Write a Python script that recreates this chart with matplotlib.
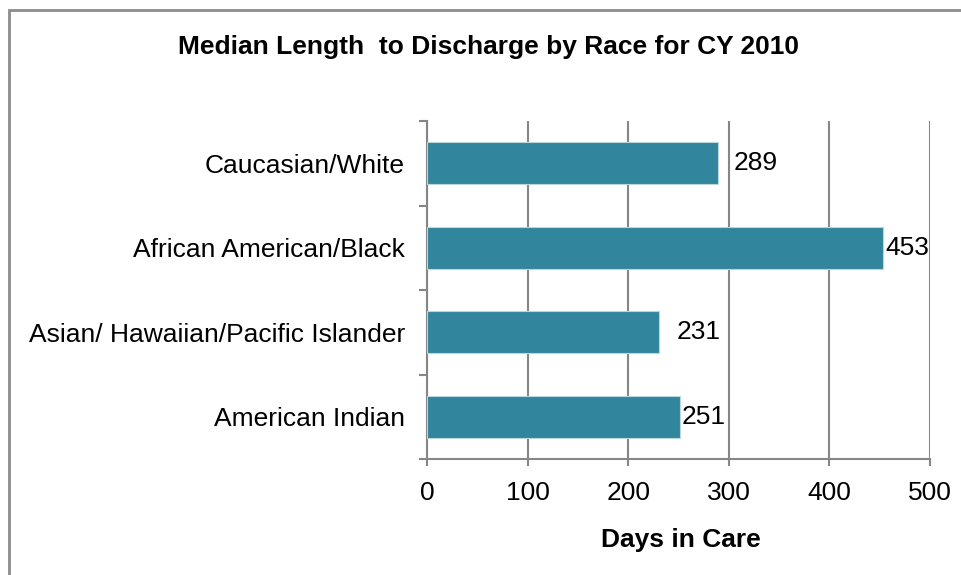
import matplotlib
matplotlib.use('Agg')
import matplotlib.pyplot as plt
from matplotlib.patches import Rectangle
import numpy as np

categories = ["Caucasian/White", "African American/Black",
              "Asian/ Hawaiian/Pacific Islander", "American Indian"]
days = [289, 453, 231, 251]
x_ticks = [0, 100, 200, 300, 400, 500]
# label gaps (pixels) as Excel placed them
label_gap = [16, 3, 17, 2]

title = "Median Length  to Discharge by Race for CY 2010"
xlabel = "Days in Care"

plt.rcParams['font.family'] = ['Liberation Sans', 'DejaVu Sans']
grey = '#868686'
bar_color = '#31859C'

fig = plt.figure(figsize=(9.61, 5.75), dpi=100)
ax = fig.add_axes([427 / 961, 1 - 459 / 575, 503 / 961, 338 / 575])

n = len(categories)
pos = np.arange(n)[::-1]  # first category at the top
bars = ax.barh(pos, days, height=0.5, color=bar_color,
               edgecolor='#bcd6de', linewidth=0.8, zorder=3)

for b, v, g in zip(bars, days, label_gap):
    ax.annotate(str(v), (b.get_width(), b.get_y() + b.get_height() / 2),
                xytext=(g, 0), textcoords='offset pixels',
                ha='left', va='center', fontsize=19, zorder=4)

ax.set_xlim(0, 500)
ax.set_ylim(-0.5, n - 0.5)
ax.set_xticks(x_ticks)
ax.set_xticklabels([str(t) for t in x_ticks], fontsize=19)
ax.tick_params(axis='x', length=5, width=1.5, color=grey, pad=11)

# category boundaries get tick marks, names sit between them
ax.set_yticks(np.arange(n + 1) - 0.5)
ax.set_yticklabels([])
ax.set_yticks(pos, minor=True)
ax.set_yticklabels(categories, minor=True, fontsize=19)
ax.tick_params(axis='y', which='major', length=6, width=1.5, color=grey)
ax.tick_params(axis='y', which='minor', length=0, pad=16)

ax.grid(axis='x', color=grey, linewidth=1.5, zorder=0)
ax.set_axisbelow(True)
for s in ['top', 'right']:
    ax.spines[s].set_visible(False)
for s in ['left', 'bottom']:
    ax.spines[s].set_color(grey)
    ax.spines[s].set_linewidth(1.5)

fig.text(488.5 / 961, 1 - 47 / 575, title, ha='center', va='center',
         fontsize=19, fontweight='bold')
fig.text(681 / 961, 1 - 540 / 575, xlabel, ha='center', va='center',
         fontsize=19, fontweight='bold')

# chart frame, cut off at the right and bottom of the picture
fig.patches.append(Rectangle((8.5 / 961, -0.1), 1.1, 1.1 - 10.5 / 575,
                             transform=fig.transFigure, fill=False,
                             edgecolor='#8c8c8c', linewidth=2))

plt.savefig('out.png', dpi=100)
